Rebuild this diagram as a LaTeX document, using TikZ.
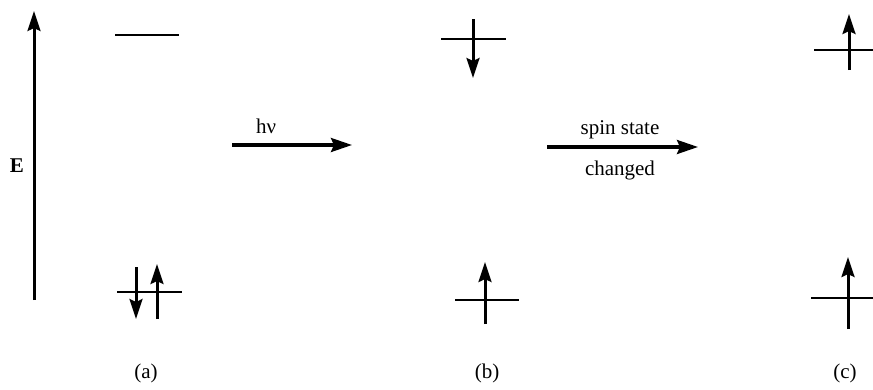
\documentclass[tikz,border=0pt]{standalone}
\usepackage{fontspec}
\setmainfont{Liberation Serif}
\usepackage{tikz}
\usetikzlibrary{arrows.meta, positioning}
\tikzset{
	leveltext/.style={font=\fontsize{21}{24}\selectfont, inner sep=0pt}
}
\tikzset{
	spin/.style={line width=3pt, -{Stealth[length=20pt, width=13pt, inset=3pt]}},
	level/.style={line width=2.6pt},
	step arrow/.style={line width=3.2pt, -{Stealth[length=21pt, width=14pt, inset=3pt]}}
}

\begin{document}
\begin{tikzpicture}[x=1pt, y=-1pt]
      \useasboundingbox (0,0) rectangle (873,389);
      % energy axis
      \coordinate (Ebot) at (34,300);
      \coordinate (Etop) at (34,11);
      \draw[spin] (Ebot) -- (Etop);
      \node[leveltext, font=\fontsize{21}{24}\selectfont\bfseries] (Elabel) at (17,166) {E};
      % (a) ground state, both electrons paired
      \draw[level] (115,35) -- (179,35);
      \draw[level] (117,292) -- (182,292);
      \coordinate (aDownS) at (136,267);
      \coordinate (aDownE) at (136,319);
      \coordinate (aUpS) at (157,319);
      \coordinate (aUpE) at (157,264);
      \draw[spin] (aDownS) -- (aDownE);
      \draw[spin] (aUpS) -- (aUpE);
      \node[leveltext] (la) at (146,373) {(a)};
      % excitation
      \coordinate (hvS) at (232,145);
      \coordinate (hvE) at (352,145);
      \draw[step arrow] (hvS) -- (hvE);
      \node[leveltext] (hv) at (266,126) {hν};
      % (b) singlet excited state
      \draw[level] (441,39) -- (506,39);
      \draw[level] (455,300) -- (519,300);
      \coordinate (bDownS) at (473,19);
      \coordinate (bDownE) at (473,78);
      \coordinate (bUpS) at (485,324);
      \coordinate (bUpE) at (485,262);
      \draw[spin] (bDownS) -- (bDownE);
      \draw[spin] (bUpS) -- (bUpE);
      \node[leveltext] (lb) at (487,373) {(b)};
      % intersystem crossing
      \coordinate (iscS) at (547,147);
      \coordinate (iscE) at (698,147);
      \draw[step arrow] (iscS) -- (iscE);
      \node[leveltext] (isc1) at (620,130) {spin state};
      \node[leveltext] (isc2) at (620,170) {changed};
      % (c) triplet state
      \draw[level] (814,50) -- (873,50);
      \draw[level] (811,298) -- (873,298);
      \coordinate (cTopS) at (849,70);
      \coordinate (cTopE) at (849,14);
      \coordinate (cBotS) at (848,329);
      \coordinate (cBotE) at (848,257);
      \draw[spin] (cTopS) -- (cTopE);
      \draw[spin] (cBotS) -- (cBotE);
      \node[leveltext] (lc) at (845,373) {(c)};
    \end{tikzpicture}
\end{document}
